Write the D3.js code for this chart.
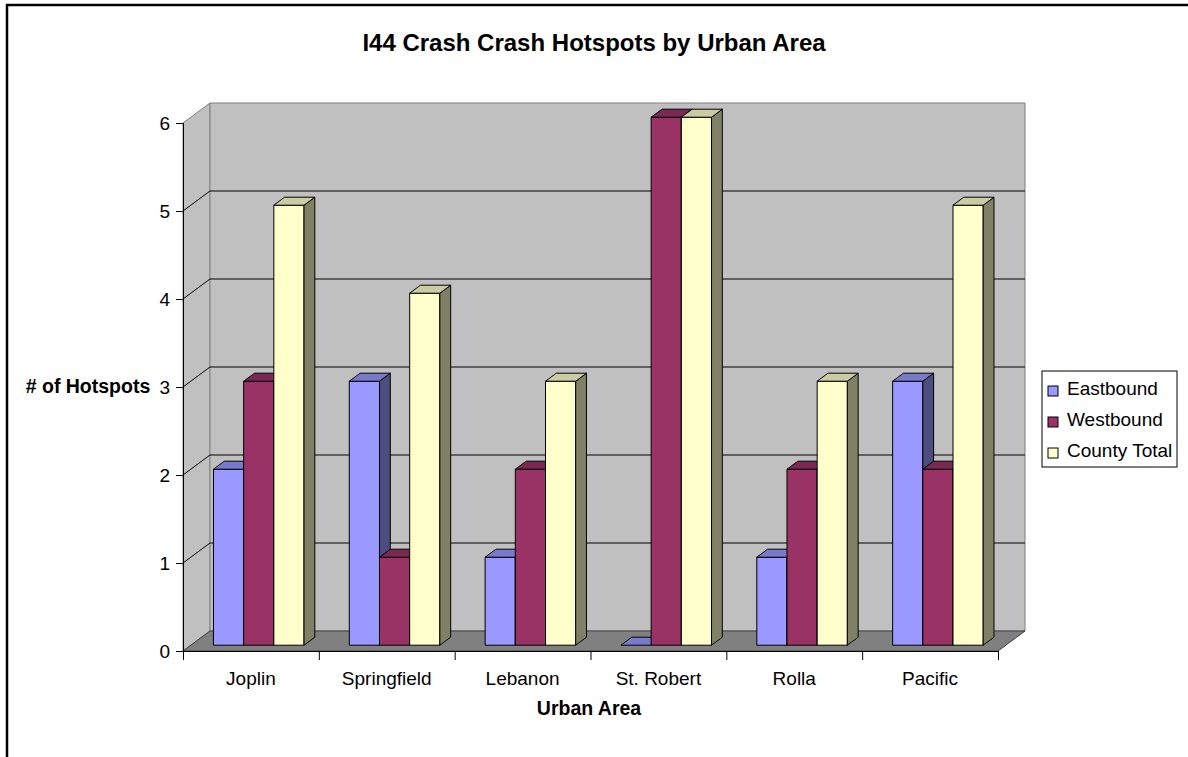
<!doctype html>
<html lang="en">
<head>
  <meta charset="utf-8">
  <script src="https://cdn.jsdelivr.net/npm/d3@7"></script>
  <title>I44 Crash Hotspots</title>
  <style>
    body { margin: 0; background: #fff; }
    svg text { font-family: "Liberation Sans", Arial, sans-serif; fill: #000; }
  </style>
</head>
<body>
  <svg id="chart" width="1188" height="757"></svg>
  <script>
    // data
    var categories = ["Joplin", "Springfield", "Lebanon", "St. Robert", "Rolla", "Pacific"];
    var seriesNames = ["Eastbound", "Westbound", "County Total"];
    var eastbound = [2, 3, 1, 0, 1, 3];
    var westbound = [3, 1, 2, 6, 2, 2];
    var countyTotal = [5, 4, 3, 6, 3, 5];
    var yTicks = [0, 1, 2, 3, 4, 5, 6];

    var colors = ["#9999FF", "#993366", "#FFFFCC"];
    var values = [eastbound, westbound, countyTotal];

    var svg = d3.select("#chart");

    // 3d look: depth offset of the back wall
    var DX = 27, DY = 20;
    var f1 = 0.29, f2 = 0.69; // bar front/back, as a fraction of depth

    var x = d3.scaleBand().domain(categories).range([183, 998]);
    var xs = d3.scaleBand().domain(seriesNames).range([0, x.bandwidth()]).paddingOuter(0.75).paddingInner(0);
    var y = d3.scaleLinear().domain([0, 6]).range([651, 123]);

    var x0 = x.range()[0], x1 = x.range()[1];
    var yb = y(0), yt = y(6);

    function pts(arr) { return arr.map(function(p) { return p.join(","); }).join(" "); }
    function shade(c, k) {
      var col = d3.rgb(c);
      return d3.rgb(col.r * k, col.g * k, col.b * k).toString();
    }

    // chart border
    svg.append("rect")
      .attr("x", 7).attr("y", 5).attr("width", 1300).attr("height", 900)
      .attr("fill", "none").attr("stroke", "#000").attr("stroke-width", 2.5);

    // walls and floor
    var walls = svg.append("g");
    walls.append("polygon")
      .attr("points", pts([[x0, yb], [x0, yt], [x0 + DX, yt - DY], [x0 + DX, yb - DY]]))
      .attr("fill", "#C0C0C0").attr("stroke", "#808080");
    walls.append("polygon")
      .attr("points", pts([[x0 + DX, yt - DY], [x1 + DX, yt - DY], [x1 + DX, yb - DY], [x0 + DX, yb - DY]]))
      .attr("fill", "#C0C0C0").attr("stroke", "#808080");

    // gridlines
    walls.selectAll("path.grid")
      .data(yTicks.filter(function(t) { return t > 0 && t < 6; }))
      .enter()
      .append("path")
        .attr("class", "grid")
        .attr("d", function(t) {
          return "M" + x0 + "," + y(t) + "L" + (x0 + DX) + "," + (y(t) - DY) + "L" + (x1 + DX) + "," + (y(t) - DY);
        })
        .attr("fill", "none").attr("stroke", "#000");

    walls.append("polygon")
      .attr("points", pts([[x0, yb], [x1, yb], [x1 + DX, yb - DY], [x0 + DX, yb - DY]]))
      .attr("fill", "#808080").attr("stroke", "#404040");

    // bars, drawn left to right so right hand sides overlap properly
    var bars = svg.append("g");
    categories.forEach(function(c, i) {
      seriesNames.forEach(function(s, j) {
        var v = values[j][i];
        var bx = x(c) + xs(s) + f1 * DX;
        var bw = xs.bandwidth();
        var by0 = yb - f1 * DY, by1 = y(v) - f1 * DY;
        var ddx = (f2 - f1) * DX, ddy = (f2 - f1) * DY;
        var g = bars.append("g").attr("stroke", "#000").attr("stroke-width", 1).attr("stroke-linejoin", "round");
        if (v > 0) {
          g.append("polygon")
            .attr("points", pts([[bx, by0], [bx + bw, by0], [bx + bw, by1], [bx, by1]]))
            .attr("fill", colors[j]);
          g.append("polygon")
            .attr("points", pts([[bx + bw, by0], [bx + bw + ddx, by0 - ddy], [bx + bw + ddx, by1 - ddy], [bx + bw, by1]]))
            .attr("fill", shade(colors[j], 0.5));
        }
        g.append("polygon")
          .attr("points", pts([[bx, by1], [bx + bw, by1], [bx + bw + ddx, by1 - ddy], [bx + ddx, by1 - ddy]]))
          .attr("fill", shade(colors[j], 0.8));
      });
    });

    // y axis
    var yAxis = svg.append("g")
      .attr("transform", "translate(" + x0 + ",0)")
      .call(d3.axisLeft(y).tickValues(yTicks).tickSize(7).tickPadding(6).tickFormat(d3.format("d")));
    yAxis.selectAll("text").style("font-size", "19px").attr("fill", "#000");
    yAxis.selectAll("line, path").attr("stroke", "#000");

    // x axis: ticks sit between categories
    var xEdges = d3.scaleLinear().domain([0, categories.length]).range([x0, x1]);
    var xAxis = svg.append("g")
      .attr("transform", "translate(0," + yb + ")")
      .call(d3.axisBottom(xEdges).tickValues(d3.range(categories.length + 1)).tickSize(9).tickSizeOuter(0).tickFormat(""));
    xAxis.selectAll("line, path").attr("stroke", "#000");

    svg.append("g").selectAll("text")
      .data(categories)
      .enter()
      .append("text")
        .attr("x", function(d) { return x(d) + x.bandwidth() / 2; })
        .attr("y", 685)
        .style("text-anchor", "middle")
        .style("font-size", "19px")
        .text(function(d) { return d; });

    // titles
    svg.append("text")
      .attr("x", 594).attr("y", 51)
      .style("text-anchor", "middle").style("font-size", "24px").style("font-weight", "bold")
      .text("I44 Crash Crash Hotspots by Urban Area");
    svg.append("text")
      .attr("x", 589).attr("y", 715)
      .style("text-anchor", "middle").style("font-size", "19.5px").style("font-weight", "bold")
      .text("Urban Area");
    svg.append("text")
      .attr("x", 88).attr("y", 393)
      .style("text-anchor", "middle").style("font-size", "19.5px").style("font-weight", "bold")
      .text("# of Hotspots");

    // legend
    var legend = svg.append("g").attr("transform", "translate(1042,371)");
    legend.append("rect")
      .attr("width", 135).attr("height", 96)
      .attr("fill", "#fff").attr("stroke", "#000");
    var item = legend.selectAll("g.item")
      .data(seriesNames)
      .enter()
      .append("g")
        .attr("class", "item")
        .attr("transform", function(d, i) { return "translate(6," + (24 + i * 31) + ")"; });
    item.append("rect")
      .attr("x", 0).attr("y", -9).attr("width", 10).attr("height", 10)
      .attr("fill", function(d, i) { return colors[i]; })
      .attr("stroke", "#000");
    item.append("text")
      .attr("x", 19).attr("y", 0)
      .style("font-size", "19px")
      .text(function(d) { return d; });
  </script>
</body>
</html>
